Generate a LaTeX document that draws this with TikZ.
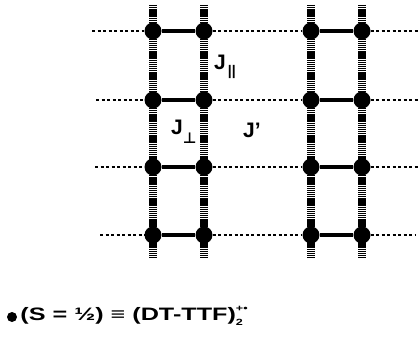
\documentclass[tikz,border=0pt]{standalone}
\usepackage{fontspec}
\setmainfont{Liberation Sans}
\newfontfamily\symfam{DejaVu Sans}
\newfontfamily\widefam[FakeStretch=1.4]{Liberation Sans}
\usetikzlibrary{positioning, backgrounds}

\begin{document}
\begin{tikzpicture}[x=1pt, y=-1pt,
  site/.style={circle, fill=black, inner sep=0pt, minimum size=17pt},
  leg/.style={line width=7.5pt, dash pattern=on 1.4pt off 0.7pt},
  rung/.style={line width=4.5pt},
  inter/.style={line width=1.5pt, dash pattern=on 3pt off 2.5pt},
  lbl/.style={font=\bfseries\fontsize{21}{23}\selectfont, inner sep=0pt, anchor=base west}]
\useasboundingbox (0,0) rectangle (418,337);
% spin sites of the two ladders
\foreach \r/\y in {1/31, 2/100, 3/167, 4/235}{
  \node[site] (a\r) at (153,\y) {};
  \node[site] (b\r) at (204,\y) {};
  \node[site] (c\r) at (311,\y) {};
  \node[site] (d\r) at (362,\y) {};
}
% free ends of the interladder links
\coordinate (w1) at (92,31);
\coordinate (w2) at (96,100);
\coordinate (w3) at (95,167);
\coordinate (w4) at (100,235);
\coordinate (e1) at (418,31);
\coordinate (e2) at (418,100);
\coordinate (e3) at (418,167);
\coordinate (e4) at (415,235);
\begin{scope}[on background layer]
  \foreach \l in {a,b,c,d}
    \draw[leg, shorten <=-26pt, shorten >=-23pt] (\l1.center) -- (\l4.center);
  \foreach \r in {1,...,4}{
    \draw[rung] (a\r) -- (b\r);
    \draw[rung] (c\r) -- (d\r);
    \draw[inter] (w\r) -- (a\r);
    \draw[inter] (b\r) -- (c\r);
    \draw[inter] (d\r) -- (e\r);
  }
\end{scope}
% couplings
\node[lbl] (jpar) at (214,70)
  {J\hspace{2pt}\raisebox{-6pt}{\fontsize{14}{14}\selectfont||}};
\node[lbl] (jperp) at (171,135)
  {J\raisebox{-9pt}{\symfam\bfseries\fontsize{15}{15}\selectfont ⊥}};
\node[lbl] (jprime) at (243,137) {J'};
% legend
\node[site, minimum size=10pt] (key) at (12,317) {};
\node[lbl, font=\widefam\bfseries\fontsize{18}{20}\selectfont, right=3pt of key.east, anchor=west, yshift=1pt] (keytext)
  {(S = ½) ≡ (DT-TTF)\rlap{\raisebox{-5pt}{\fontsize{9}{9}\selectfont 2}}\raisebox{9pt}{\fontsize{9}{9}\selectfont +•}};
\end{tikzpicture}
\end{document}
